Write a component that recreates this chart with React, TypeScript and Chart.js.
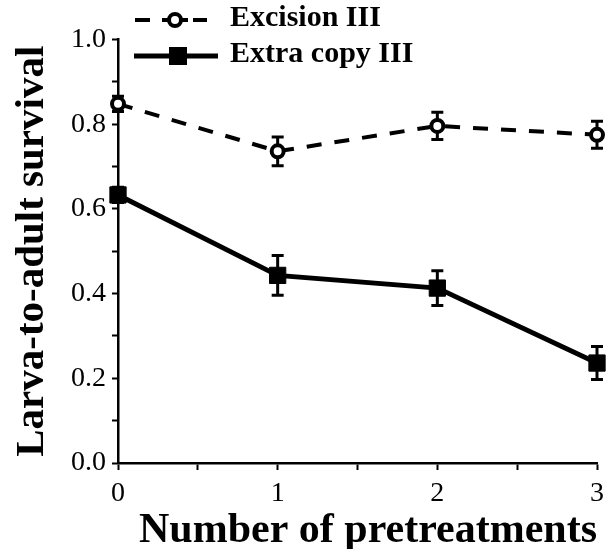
import React, { useEffect, useRef } from "react";
import { Chart, registerables } from "chart.js";

Chart.register(...registerables);

const pretreatments = [0, 1, 2, 3];
const excision = [0.848, 0.736, 0.796, 0.775];
const excisionErr = [0.018, 0.034, 0.032, 0.032];
const extraCopy = [0.633, 0.443, 0.413, 0.236];
const extraCopyErr = [0.018, 0.047, 0.041, 0.039];
const legendLabels = ["Excision III", "Extra copy III"];
const xTitle = "Number of pretreatments";
const yTitle = "Larva-to-adult survival";

const SERIF = "'Liberation Serif', 'Times New Roman', serif";

const errorBars = {
  id: "errorBars",
  beforeDatasetsDraw(chart: any) {
    const { ctx, scales } = chart;
    const xs = scales.x;
    const ys = scales.y;
    const errs = [excisionErr, extraCopyErr];
    chart.data.datasets.forEach((ds: any, di: number) => {
      ds.data.forEach((p: any, i: number) => {
        const e = errs[di][i];
        const x = xs.getPixelForValue(p.x);
        const y1 = ys.getPixelForValue(p.y + e);
        const y2 = ys.getPixelForValue(p.y - e);
        ctx.save();
        ctx.strokeStyle = "#000";
        ctx.lineWidth = 3;
        ctx.setLineDash([]);
        ctx.beginPath();
        ctx.moveTo(x, y1);
        ctx.lineTo(x, y2);
        ctx.moveTo(x - 6, y1);
        ctx.lineTo(x + 6, y1);
        ctx.moveTo(x - 6, y2);
        ctx.lineTo(x + 6, y2);
        ctx.stroke();
        ctx.restore();
      });
    });
  },
};

const customLegend = {
  id: "customLegend",
  afterDraw(chart: any) {
    const { ctx } = chart;
    ctx.save();
    ctx.strokeStyle = "#000";
    ctx.fillStyle = "#000";
    const y1 = 20;
    ctx.lineWidth = 4;
    ctx.beginPath();
    ctx.moveTo(135, y1);
    ctx.lineTo(150, y1);
    ctx.moveTo(162, y1);
    ctx.lineTo(188, y1);
    ctx.moveTo(193, y1);
    ctx.lineTo(207, y1);
    ctx.stroke();
    ctx.beginPath();
    ctx.arc(175, y1, 6, 0, Math.PI * 2);
    ctx.fillStyle = "#fff";
    ctx.fill();
    ctx.lineWidth = 4;
    ctx.stroke();
    const y2 = 56;
    ctx.lineWidth = 5;
    ctx.beginPath();
    ctx.moveTo(134, y2);
    ctx.lineTo(218, y2);
    ctx.stroke();
    ctx.fillStyle = "#000";
    ctx.fillRect(169, y2 - 9, 18, 18);
    ctx.font = `bold 30px ${SERIF}`;
    ctx.textAlign = "left";
    ctx.textBaseline = "middle";
    ctx.fillText(legendLabels[0], 230, y1 - 2);
    ctx.fillText(legendLabels[1], 230, y2 - 2);
    ctx.restore();
  },
};

export default function App() {
  const ref = useRef<HTMLCanvasElement | null>(null);
  useEffect(() => {
    if (!ref.current) return;
    const chart = new Chart(ref.current, {
      type: "line",
      data: {
        datasets: [
          {
            label: legendLabels[0],
            data: pretreatments.map((x, i) => ({ x, y: excision[i] })),
            borderColor: "#000",
            borderWidth: 4,
            borderDash: [15, 13],
            pointStyle: "circle",
            pointRadius: 6,
            pointBorderWidth: 4,
            pointBackgroundColor: "#fff",
            pointBorderColor: "#000",
            clip: false,
          } as any,
          {
            label: legendLabels[1],
            data: pretreatments.map((x, i) => ({ x, y: extraCopy[i] })),
            borderColor: "#000",
            borderWidth: 5,
            pointStyle: "rect",
            pointRadius: 11.5,
            pointBorderWidth: 1,
            pointBackgroundColor: "#000",
            pointBorderColor: "#000",
            clip: false,
          } as any,
        ],
      },
      options: {
        animation: false,
        responsive: true,
        maintainAspectRatio: false,
        layout: { padding: { top: 39.5, right: 19, left: 0, bottom: 0 } },
        plugins: { legend: { display: false }, tooltip: { enabled: false } },
        scales: {
          x: {
            type: "linear",
            min: 0,
            max: 3,
            afterFit: (s: any) => {
              s.height = 86;
            },
            border: { color: "#000", width: 2.5 },
            grid: {
              drawOnChartArea: false,
              drawTicks: true,
              tickLength: 7,
              tickColor: "#000",
              tickWidth: 2,
            },
            ticks: {
              stepSize: 0.5,
              color: "#000",
              padding: 7,
              font: { family: SERIF, size: 28 },
              callback: (v: any) => (Number.isInteger(Number(v)) ? String(v) : ""),
              maxRotation: 0,
              autoSkip: false,
            },
            title: {
              display: true,
              text: xTitle,
              align: "end",
              color: "#000",
              font: { family: SERIF, size: 42, weight: "bold", lineHeight: 0.86 },
              padding: { top: 0, bottom: 0 },
            },
          },
          y: {
            type: "linear",
            min: 0,
            max: 1,
            afterFit: (s: any) => {
              s.width = 118;
            },
            border: { color: "#000", width: 2.5 },
            grid: {
              drawOnChartArea: false,
              drawTicks: true,
              tickLength: 6,
              tickColor: "#000",
              tickWidth: 2,
            },
            ticks: {
              stepSize: 0.1,
              color: "#000",
              padding: 6,
              font: { family: SERIF, size: 28 },
              callback: (v: any) => {
                const n = Math.round(Number(v) * 10);
                return n % 2 === 0 ? (n / 10).toFixed(1) : "";
              },
              autoSkip: false,
            },
            title: {
              display: true,
              text: yTitle,
              color: "#000",
              font: { family: SERIF, size: 41, weight: "bold", lineHeight: 1.2 },
              padding: { top: 8, bottom: 0 },
            },
          },
        },
      } as any,
      plugins: [errorBars, customLegend],
    });
    return () => chart.destroy();
  }, []);
  return (
    <div style={{ position: "absolute", left: 0, top: 0, width: 616, height: 549, background: "#fff" }}>
      <canvas ref={ref} />
    </div>
  );
}
